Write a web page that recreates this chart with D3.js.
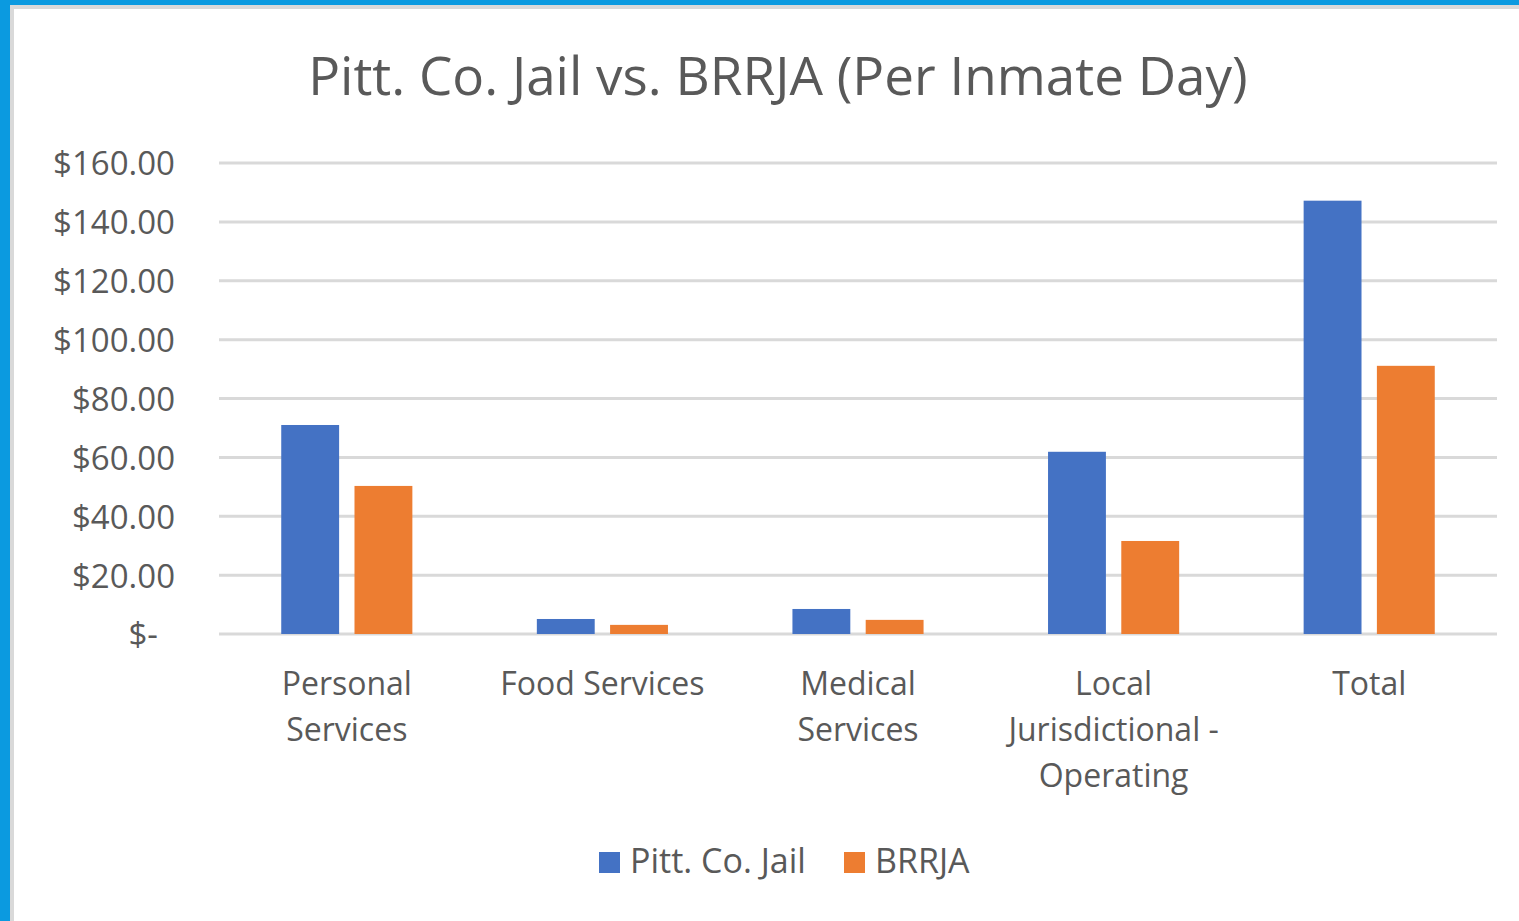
<!doctype html>
<html lang="en">
<head>
<meta charset="UTF-8">
<title>Pitt. Co. Jail vs. BRRJA (Per Inmate Day)</title>
<script src="https://d3js.org/d3.v7.min.js"></script>
<style>
body { margin: 0; overflow: hidden; font-family: "Open Sans", sans-serif; }
svg { display: block; }
.axis text { font-family: "Open Sans", sans-serif; fill: #595959; }
.grid line { stroke: #d9d9d9; stroke-width: 3; }
</style>
</head>
<body>
<div id="plot"></div>
<script>

var categories = ["Personal Services", "Food Services", "Medical Services", "Local Jurisdictional - Operating", "Total"];
var categoryLines = [["Personal", "Services"], ["Food Services"], ["Medical", "Services"], ["Local", "Jurisdictional -", "Operating"], ["Total"]];
var seriesNames = ["Pitt. Co. Jail", "BRRJA"];
var pittValues = [71.0, 5.1, 8.5, 61.9, 147.2];
var brrjaValues = [50.3, 3.1, 4.8, 31.6, 91.1];
var yTicks = [0, 20, 40, 60, 80, 100, 120, 140, 160];
var colors = ["#4472c4", "#ed7d31"];

var width = 1519;
var height = 921;
var plotLeft = 219, plotRight = 1497, plotTop = 163, plotBottom = 634;

var svg = d3.select("#plot").append("svg")
	.attr("width", width)
	.attr("height", height);

// frame
svg.append("rect").attr("width", width).attr("height", height).style("fill", "#0b9ae0");
svg.append("rect").attr("x", 10).attr("y", 5).attr("width", width).attr("height", height)
	.style("fill", "#d9d9d9");
svg.append("rect").attr("x", 14).attr("y", 9).attr("width", width).attr("height", height)
	.style("fill", "#ffffff");

var x0 = d3.scaleBand().domain(categories)
	.range([plotLeft, plotRight])
	.paddingInner(0.487)
	.paddingOuter(0.2435);

var x1 = d3.scaleBand().domain(seriesNames)
	.range([0, x0.bandwidth()])
	.paddingInner(0.21);

var y = d3.scaleLinear().domain([0, 160]).range([plotBottom, plotTop]);

// gridlines
svg.append("g")
	.attr("class", "grid")
	.selectAll("line")
	.data(yTicks)
	.enter().append("line")
	.attr("x1", plotLeft)
	.attr("x2", plotRight)
	.attr("y1", function (d) { return y(d); })
	.attr("y2", function (d) { return y(d); });

// y axis labels
var yAxis = d3.axisLeft(y).tickValues(yTicks).tickSize(0).tickPadding(0)
	.tickFormat(function (d) { return d === 0 ? "$-" : "$" + d.toFixed(2); });

var yg = svg.append("g")
	.attr("class", "axis")
	.attr("transform", "translate(175, 0)")
	.call(yAxis);
yg.select(".domain").remove();
yg.selectAll("text").style("font-size", "33px").attr("dy", "0.36em")
	.attr("x", function (d) { return d === 0 ? -17 : 0; });

// bars
var rows = categories.map(function (c, i) {
	return { category: c, values: [pittValues[i], brrjaValues[i]] };
});

var groups = svg.append("g").selectAll("g")
	.data(rows)
	.enter().append("g")
	.attr("transform", function (d) { return "translate(" + x0(d.category) + ",0)"; });

groups.selectAll("rect")
	.data(function (d) { return d.values.map(function (v, j) { return { name: seriesNames[j], value: v, i: j }; }); })
	.enter().append("rect")
	.attr("x", function (d) { return x1(d.name); })
	.attr("width", x1.bandwidth())
	.attr("y", function (d) { return y(d.value); })
	.attr("height", function (d) { return y(0) - y(d.value); })
	.style("fill", function (d) { return colors[d.i]; });

// category labels
var xl = svg.append("g").attr("class", "axis");
categories.forEach(function (c, i) {
	var t = xl.append("text")
		.attr("text-anchor", "middle")
		.style("font-size", "32px")
		.style("fill", "#595959");
	categoryLines[i].forEach(function (line, k) {
		t.append("tspan")
			.attr("x", x0(c) + x0.bandwidth() / 2)
			.attr("y", 695 + k * 46)
			.text(line);
	});
});

// title
svg.append("text")
	.attr("x", 778)
	.attr("y", 95)
	.attr("text-anchor", "middle")
	.style("font-size", "53px")
	.style("fill", "#595959")
	.text("Pitt. Co. Jail vs. BRRJA (Per Inmate Day)");

// legend
var legendX = [599, 844];
seriesNames.forEach(function (name, i) {
	svg.append("rect")
		.attr("x", legendX[i])
		.attr("y", 852)
		.attr("width", 21)
		.attr("height", 21)
		.style("fill", colors[i]);
	svg.append("text")
		.attr("x", legendX[i] + 31)
		.attr("y", 873)
		.style("font-size", "34px")
		.style("fill", "#595959")
		.text(name);
});

</script>
</body>
</html>
